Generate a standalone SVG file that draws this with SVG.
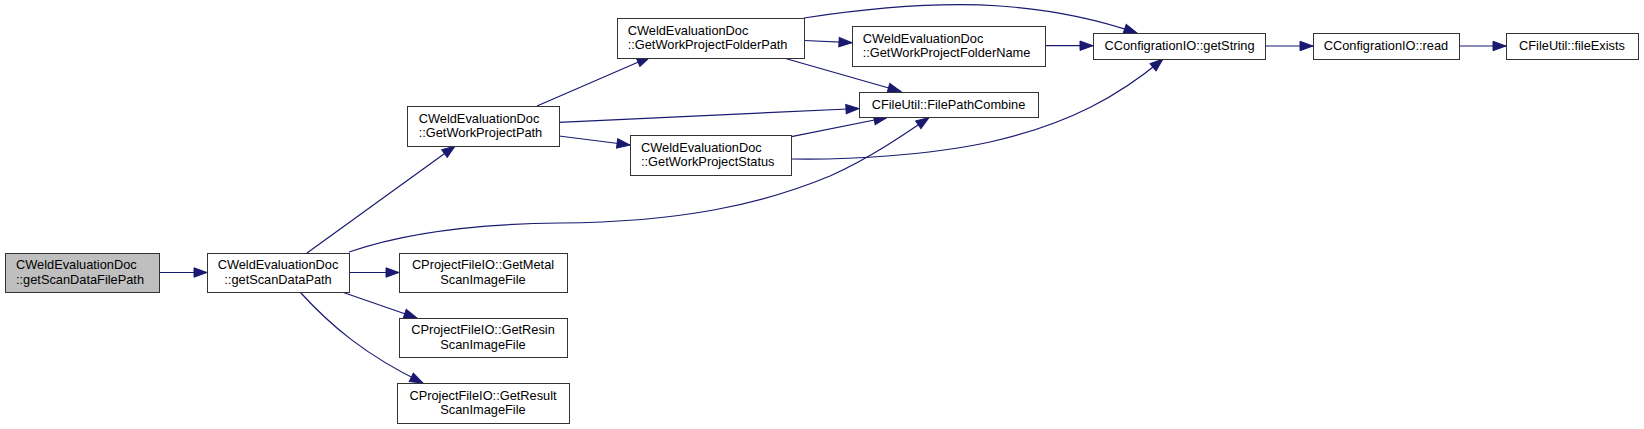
<svg xmlns="http://www.w3.org/2000/svg" width="1644" height="429" viewBox="0 0 1644 429">
<defs>
<style>
.node rect{fill:#ffffff;stroke:#333333;stroke-width:1}
.node.cur rect{fill:#bfbfbf}
.node text{font-family:"Liberation Sans",Arial,sans-serif;font-size:12.8px;fill:#000000}
.m{text-anchor:middle}
.edges path{fill:none;stroke:#191970;stroke-width:1.2;marker-end:url(#ah)}
</style>
<marker id="ah" markerUnits="userSpaceOnUse" markerWidth="14" markerHeight="10" refX="13" refY="4.7" orient="auto" overflow="visible">
<path d="M0,0 L13,4.7 L0,9.4 z" fill="#191970" stroke="#191970" stroke-width="1"/>
</marker>
</defs>
<rect width="1644" height="429" fill="#ffffff"/>
<g id="edges" class="edges">
<path d="M159,272.5 L207,272.5"/>
<path d="M307,253 L455,146"/>
<path d="M349,252 C395,236 460,224 560,223 C680,222 760,205 830,176 C870,158 905,134 929,117.5"/>
<path d="M349,272.5 L399,272.5"/>
<path d="M342,292 L417,318"/>
<path d="M300,292 C330,325 365,355 423,383"/>
<path d="M537,106 L650,57"/>
<path d="M559,122.3 L859,108.5"/>
<path d="M559,136 L630,145"/>
<path d="M804,18 C870,8 940,2 1000,6 C1060,10 1105,22 1137,33"/>
<path d="M804,40.5 L852,42.7"/>
<path d="M782,57.5 L901,91.5"/>
<path d="M1045,45.7 L1093,45.7"/>
<path d="M791.5,136.7 L887,117.5"/>
<path d="M792,159 C850,160 930,155 990,142 C1070,124 1120,95 1163,59"/>
<path d="M1265,46 L1313,46"/>
<path d="M1459,46 L1506,46"/>
</g>
<g id="n_getScanDataFilePath" class="node cur">
<rect x="5.5" y="253.5" width="154" height="39"/>
<text x="16" y="269">CWeldEvaluationDoc</text>
<text x="16" y="283.5">::getScanDataFilePath</text>
</g>
<g id="n_getScanDataPath" class="node">
<rect x="207.5" y="253.5" width="142" height="39"/>
<text class="m" x="278" y="269">CWeldEvaluationDoc</text>
<text class="m" x="278" y="283.5">::getScanDataPath</text>
</g>
<g id="n_GetWorkProjectPath" class="node">
<rect x="407.5" y="106.5" width="152" height="40"/>
<text x="418.7" y="122.5">CWeldEvaluationDoc</text>
<text x="418.7" y="137">::GetWorkProjectPath</text>
</g>
<g id="n_GetWorkProjectFolderPath" class="node">
<rect x="617.5" y="18.5" width="187" height="40"/>
<text x="627.7" y="34.5">CWeldEvaluationDoc</text>
<text x="627.7" y="49">::GetWorkProjectFolderPath</text>
</g>
<g id="n_GetWorkProjectStatus" class="node">
<rect x="630.5" y="135.5" width="161" height="40"/>
<text x="641" y="151.5">CWeldEvaluationDoc</text>
<text x="641" y="166">::GetWorkProjectStatus</text>
</g>
<g id="n_GetWorkProjectFolderName" class="node">
<rect x="852.5" y="26.5" width="193" height="40"/>
<text x="862.7" y="42.5">CWeldEvaluationDoc</text>
<text x="862.7" y="57">::GetWorkProjectFolderName</text>
</g>
<g id="n_FilePathCombine" class="node">
<rect x="859.5" y="92.5" width="179" height="25"/>
<text class="m" x="948.5" y="108.5">CFileUtil::FilePathCombine</text>
</g>
<g id="n_getString" class="node">
<rect x="1093.5" y="33.5" width="172" height="26"/>
<text class="m" x="1179.5" y="50.3">CConfigrationIO::getString</text>
</g>
<g id="n_read" class="node">
<rect x="1313.5" y="33.5" width="146" height="26"/>
<text class="m" x="1386" y="50.3">CConfigrationIO::read</text>
</g>
<g id="n_fileExists" class="node">
<rect x="1506.5" y="33.5" width="132" height="26"/>
<text class="m" x="1572" y="50.3">CFileUtil::fileExists</text>
</g>
<g id="n_GetMetal" class="node">
<rect x="399.5" y="253.5" width="168" height="39"/>
<text class="m" x="483" y="269">CProjectFileIO::GetMetal</text>
<text class="m" x="483" y="283.5">ScanImageFile</text>
</g>
<g id="n_GetResin" class="node">
<rect x="399.5" y="318.5" width="168" height="39"/>
<text class="m" x="483" y="334">CProjectFileIO::GetResin</text>
<text class="m" x="483" y="348.5">ScanImageFile</text>
</g>
<g id="n_GetResult" class="node">
<rect x="397.5" y="383.5" width="172" height="40"/>
<text class="m" x="483" y="399.5">CProjectFileIO::GetResult</text>
<text class="m" x="483" y="414">ScanImageFile</text>
</g>
</svg>
